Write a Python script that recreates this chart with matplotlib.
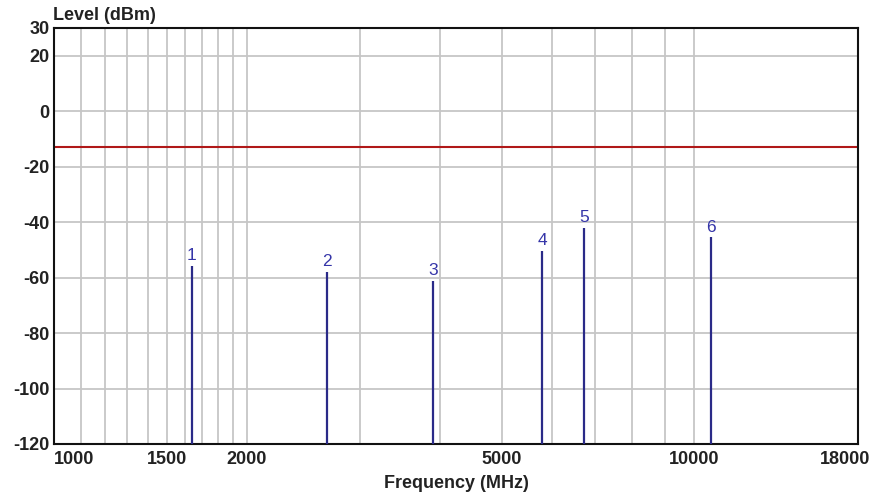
import matplotlib
matplotlib.use("Agg")
import matplotlib.pyplot as plt
from matplotlib.ticker import FixedLocator, NullFormatter, NullLocator
import matplotlib.transforms as mtransforms

# ---- data ----
marker_labels = ["1", "2", "3", "4", "5", "6"]
marker_freq_mhz = [1640, 2667, 3906, 5780, 6714, 10620]
marker_level_dbm = [-55.7, -57.9, -61.1, -50.4, -42.2, -45.5]
limit_dbm = -13

x_tick_values = [1000, 1500, 2000, 5000, 10000, 18000]
x_tick_labels = ["1000", "1500", "2000", "5000", "10000", "18000"]
x_grid_values = [1100, 1200, 1300, 1400, 1500, 1600, 1700, 1800, 1900, 2000,
                 3000, 4000, 5000, 6000, 7000, 8000, 9000, 10000]
y_tick_values = [30, 20, 0, -20, -40, -60, -80, -100, -120]
y_grid_values = [20, 0, -20, -40, -60, -80, -100]
x_range = (1000, 18000)
y_range = (-120, 30)

plt.rcParams['font.family'] = ['Liberation Sans', 'DejaVu Sans']

fig = plt.figure(figsize=(8.75, 4.95), dpi=100)
ax = fig.add_axes([54/875, 1-444/495, (858-54)/875, (444-28)/495])

ax.set_xscale('log')
ax.set_xlim(*x_range)
ax.set_ylim(*y_range)

grid_color = '#c6c6c6'
for gx in x_grid_values:
    ax.axvline(gx, color=grid_color, lw=1.3, zorder=1)
for gy in y_grid_values:
    ax.axhline(gy, color=grid_color, lw=1.3, zorder=1)

ax.axhline(limit_dbm, color='#b01818', lw=1.5, zorder=2)

ax.vlines(marker_freq_mhz, y_range[0], marker_level_dbm, color='#2a2a88', lw=1.6, zorder=3)
for lab, fx, lv in zip(marker_labels, marker_freq_mhz, marker_level_dbm):
    ax.annotate(lab, (fx, lv), xytext=(0, 2), textcoords='offset points',
                ha='center', va='bottom', fontsize=12.5, color='#3535a8', zorder=4)

ax.xaxis.set_major_locator(FixedLocator(x_tick_values))
ax.xaxis.set_minor_locator(NullLocator())
ax.xaxis.set_minor_formatter(NullFormatter())
ax.set_xticklabels(x_tick_labels)
ax.set_yticks(y_tick_values)
ax.set_yticklabels([str(v) for v in y_tick_values])
ax.tick_params(axis='both', length=0, labelsize=13, colors='#222222')
ax.tick_params(axis='x', pad=5)
ax.tick_params(axis='y', pad=3)
for t in ax.get_xticklabels() + ax.get_yticklabels():
    t.set_fontweight('bold')

xl = ax.get_xticklabels()
xl[0].set_ha('left')
xl[-1].set_ha('right')
xl[-1].set_transform(xl[-1].get_transform() + mtransforms.ScaledTranslation(12/100, 0, fig.dpi_scale_trans))

for sp in ax.spines.values():
    sp.set_color('#111111')
    sp.set_linewidth(1.5)

ax.set_xlabel('Frequency (MHz)', fontsize=13, fontweight='bold', color='#222222', labelpad=5)
fig.text(53/875, 1-15/495, 'Level (dBm)', fontsize=13, fontweight='bold', color='#222222',
         ha='left', va='center')

fig.savefig('out.png', dpi=100)
